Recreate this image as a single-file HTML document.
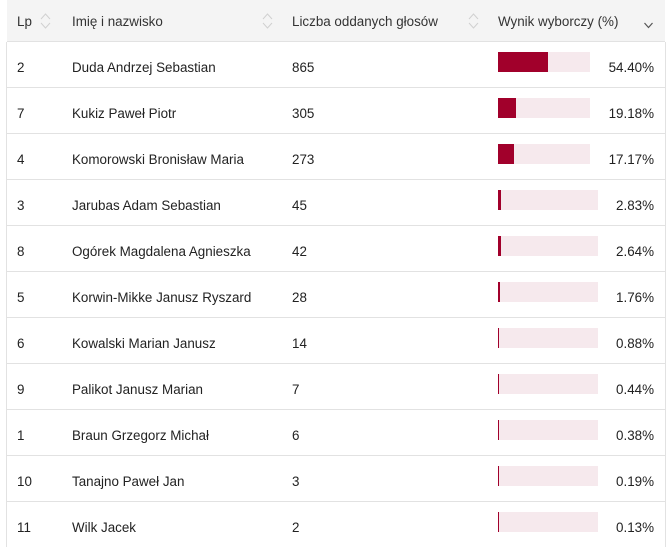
<!DOCTYPE html>
<html><head><meta charset="utf-8">
<style>
html,body{margin:0;padding:0;background:#fff;}
body{width:672px;height:547px;position:relative;overflow:hidden;font-family:"Liberation Sans",Arial,sans-serif;font-size:13.4px;color:#222;}
.hdr{position:absolute;left:7px;top:0;width:658px;height:41px;background:#f4f4f4;border-bottom:1px solid #e2e2e2;}
.vl{position:absolute;top:42px;width:1px;height:505px;background:#e2e2e2;}
.t{position:absolute;line-height:16px;white-space:nowrap;}
.row{position:absolute;left:7px;width:658px;height:45px;border-bottom:1px solid #e2e2e2;}
.bar{position:absolute;left:498px;height:20px;background:#f6e9ed;}
.fill{position:absolute;left:0;top:0;height:20px;background:#a1002b;}
.pct{position:absolute;right:18px;line-height:16px;text-align:right;}
svg{position:absolute;}
</style></head><body>
<div class="hdr"></div>
<div class="vl" style="left:6px"></div>
<div class="vl" style="left:665px"></div>

<div class="t" style="left:17px;top:14px;color:#333">Lp</div>
<div class="t" style="left:72px;top:14px;color:#333">Imię i nazwisko</div>
<div class="t" style="left:292px;top:14px;color:#333">Liczba oddanych głosów</div>
<div class="t" style="left:498px;top:14px;color:#333">Wynik wyborczy (%)</div>

<svg style="left:40px;top:12px" width="12" height="18"><polyline points="1,7 5.5,2 10,7" fill="none" stroke="#d0d0d0" stroke-width="1"/><polyline points="1,11 5.5,16 10,11" fill="none" stroke="#d0d0d0" stroke-width="1"/></svg>
<svg style="left:262px;top:12px" width="12" height="18"><polyline points="1,7 5.5,2 10,7" fill="none" stroke="#d0d0d0" stroke-width="1"/><polyline points="1,11 5.5,16 10,11" fill="none" stroke="#d0d0d0" stroke-width="1"/></svg>
<svg style="left:468px;top:12px" width="12" height="18"><polyline points="1,7 5.5,2 10,7" fill="none" stroke="#d0d0d0" stroke-width="1"/><polyline points="1,11 5.5,16 10,11" fill="none" stroke="#d0d0d0" stroke-width="1"/></svg>
<svg style="left:643px;top:21px" width="12" height="9"><polyline points="1.5,2 5.5,6.5 9.5,2" fill="none" stroke="#555" stroke-width="1.2"/></svg>

<div class="row" style="top:42px"></div>
<div class="t" style="left:17px;top:60px">2</div><div class="t" style="left:72px;top:60px">Duda Andrzej Sebastian</div><div class="t" style="left:292px;top:60px">865</div>
<div class="bar" style="top:52px;width:92px"><div class="fill" style="width:50px"></div></div><div class="pct" style="top:60px">54.40%</div>

<div class="row" style="top:88px"></div>
<div class="t" style="left:17px;top:106px">7</div><div class="t" style="left:72px;top:106px">Kukiz Paweł Piotr</div><div class="t" style="left:292px;top:106px">305</div>
<div class="bar" style="top:98px;width:92px"><div class="fill" style="width:18px"></div></div><div class="pct" style="top:106px">19.18%</div>

<div class="row" style="top:134px"></div>
<div class="t" style="left:17px;top:152px">4</div><div class="t" style="left:72px;top:152px">Komorowski Bronisław Maria</div><div class="t" style="left:292px;top:152px">273</div>
<div class="bar" style="top:144px;width:92px"><div class="fill" style="width:16px"></div></div><div class="pct" style="top:152px">17.17%</div>

<div class="row" style="top:180px"></div>
<div class="t" style="left:17px;top:198px">3</div><div class="t" style="left:72px;top:198px">Jarubas Adam Sebastian</div><div class="t" style="left:292px;top:198px">45</div>
<div class="bar" style="top:190px;width:100px"><div class="fill" style="width:3px"></div></div><div class="pct" style="top:198px">2.83%</div>

<div class="row" style="top:226px"></div>
<div class="t" style="left:17px;top:244px">8</div><div class="t" style="left:72px;top:244px">Ogórek Magdalena Agnieszka</div><div class="t" style="left:292px;top:244px">42</div>
<div class="bar" style="top:236px;width:100px"><div class="fill" style="width:3px"></div></div><div class="pct" style="top:244px">2.64%</div>

<div class="row" style="top:272px"></div>
<div class="t" style="left:17px;top:290px">5</div><div class="t" style="left:72px;top:290px">Korwin-Mikke Janusz Ryszard</div><div class="t" style="left:292px;top:290px">28</div>
<div class="bar" style="top:282px;width:100px"><div class="fill" style="width:2px"></div></div><div class="pct" style="top:290px">1.76%</div>

<div class="row" style="top:318px"></div>
<div class="t" style="left:17px;top:336px">6</div><div class="t" style="left:72px;top:336px">Kowalski Marian Janusz</div><div class="t" style="left:292px;top:336px">14</div>
<div class="bar" style="top:328px;width:100px"><div class="fill" style="width:1px"></div></div><div class="pct" style="top:336px">0.88%</div>

<div class="row" style="top:364px"></div>
<div class="t" style="left:17px;top:382px">9</div><div class="t" style="left:72px;top:382px">Palikot Janusz Marian</div><div class="t" style="left:292px;top:382px">7</div>
<div class="bar" style="top:374px;width:100px"><div class="fill" style="width:1px"></div></div><div class="pct" style="top:382px">0.44%</div>

<div class="row" style="top:410px"></div>
<div class="t" style="left:17px;top:428px">1</div><div class="t" style="left:72px;top:428px">Braun Grzegorz Michał</div><div class="t" style="left:292px;top:428px">6</div>
<div class="bar" style="top:420px;width:100px"><div class="fill" style="width:1px"></div></div><div class="pct" style="top:428px">0.38%</div>

<div class="row" style="top:456px"></div>
<div class="t" style="left:17px;top:474px">10</div><div class="t" style="left:72px;top:474px">Tanajno Paweł Jan</div><div class="t" style="left:292px;top:474px">3</div>
<div class="bar" style="top:466px;width:100px"><div class="fill" style="width:1px"></div></div><div class="pct" style="top:474px">0.19%</div>

<div class="row" style="top:502px;border-bottom:none"></div>
<div class="t" style="left:17px;top:520px">11</div><div class="t" style="left:72px;top:520px">Wilk Jacek</div><div class="t" style="left:292px;top:520px">2</div>
<div class="bar" style="top:512px;width:100px"><div class="fill" style="width:1px"></div></div><div class="pct" style="top:520px">0.13%</div>
</body></html>
